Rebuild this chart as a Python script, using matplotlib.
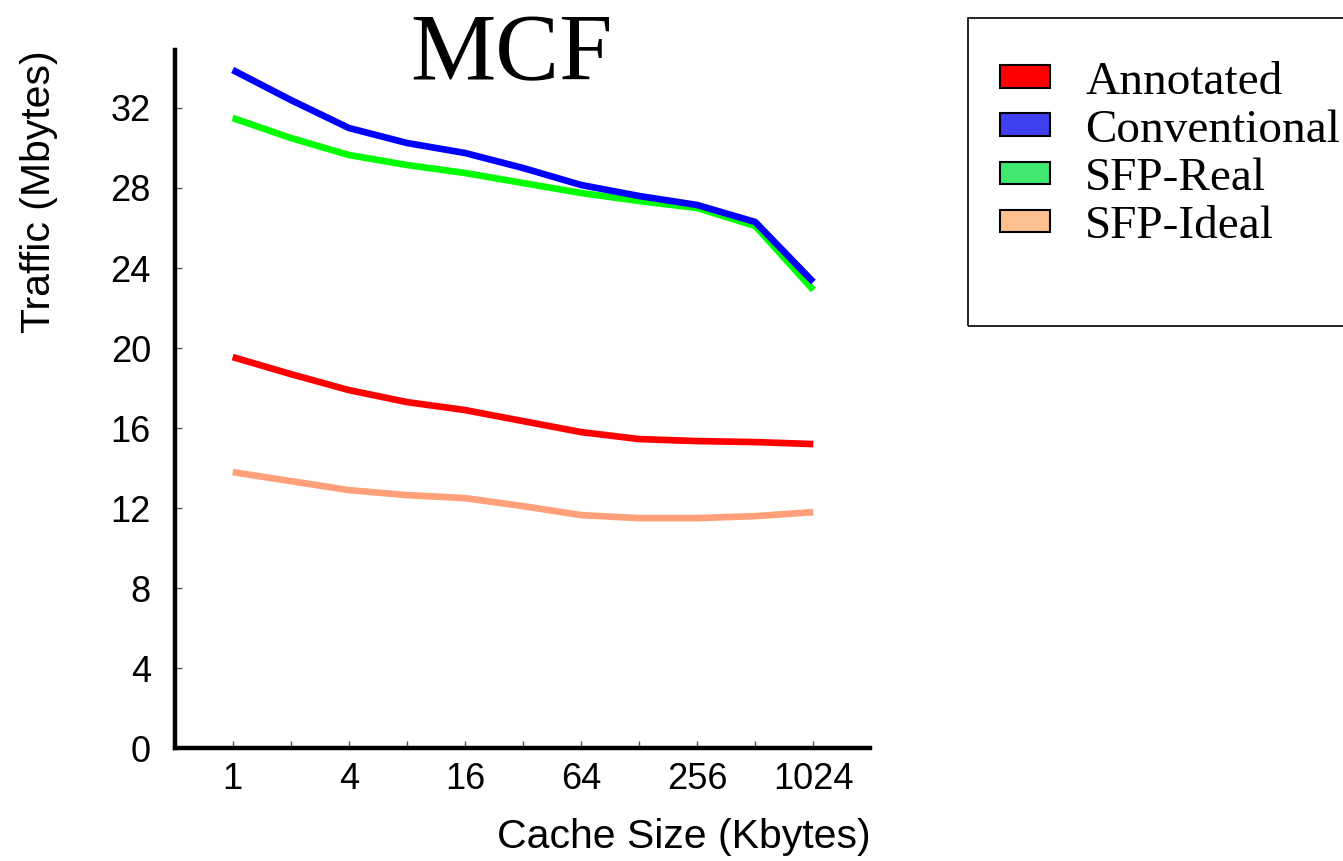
import matplotlib.pyplot as plt
from matplotlib.patches import Patch, Rectangle
import numpy as np

# cache sizes in Kbytes (powers of two)
cache_kb = [1, 2, 4, 8, 16, 32, 64, 128, 256, 512, 1024]
tick_labels = ["1", "4", "16", "64", "256", "1024"]

annotated = [19.55, 18.7, 17.9, 17.3, 16.9, 16.35, 15.8, 15.45, 15.35, 15.3, 15.2]
conventional = [33.9, 32.4, 31.0, 30.25, 29.75, 29.0, 28.15, 27.6, 27.15, 26.3, 23.3]
sfp_real = [31.5, 30.5, 29.65, 29.15, 28.75, 28.25, 27.75, 27.35, 27.0, 26.1, 22.9]
sfp_ideal = [13.8, 13.35, 12.9, 12.65, 12.5, 12.1, 11.65, 11.5, 11.5, 11.6, 11.8]

SERIES = [
    ("Annotated", annotated, "#ff0000", "#ff0000"),
    ("Conventional", conventional, "#0000ff", "#4040f0"),
    ("SFP-Real", sfp_real, "#00ff00", "#40e870"),
    ("SFP-Ideal", sfp_ideal, "#ffa07a", "#ffc090"),
]

SANS = "Liberation Sans"
SERIF = "Liberation Serif"

fig = plt.figure(figsize=(13.43, 8.61), dpi=100)
ax = fig.add_axes([0.130, 0.131, 0.518, 0.811])

x = np.log2(cache_kb)
# draw order: peach and red first, then green, blue on top
for idx in (3, 0, 2, 1):
    label, values, line_color, _ = SERIES[idx]
    ax.plot(x, values, color=line_color, lw=4.8, solid_capstyle="butt")

ax.set_xlim(-1, 10.98)
ax.set_ylim(0, 34.9)

ax.set_xticks(x)
ax.set_xticklabels([str(c) if str(c) in tick_labels else "" for c in cache_kb])
ax.set_yticks(np.arange(0, 33, 4))
ax.tick_params(axis="both", direction="in", length=5, width=1, color="#555555",
               labelsize=26)
ax.tick_params(axis="y", pad=17)
ax.tick_params(axis="x", pad=10)
for lab in ax.get_xticklabels() + ax.get_yticklabels():
    lab.set_family(SANS)

for side in ("top", "right"):
    ax.spines[side].set_visible(False)
for side in ("left", "bottom"):
    ax.spines[side].set_linewidth(3.2)
    ax.spines[side].set_color("black")

ax.set_ylabel("Traffic (Mbytes)", fontsize=29.5, family=SANS, loc="top", labelpad=38)
ax.set_xlabel("Cache Size (Kbytes)", fontsize=29.5, family=SANS, loc="right", labelpad=15)

fig.text(0.381, 1 - 57 / 861, "MCF", fontsize=69, family=SERIF, ha="center", va="center")

# legend box (extends past right edge like the original)
fig.add_artist(Rectangle((968 / 1343, 1 - 326 / 861), 0.4, 308 / 861,
                         transform=fig.transFigure, fill=False,
                         edgecolor="black", lw=1.2))
handles = [Patch(facecolor=s[3], edgecolor="black", lw=1.5) for s in SERIES]
leg = fig.legend(handles, [s[0] for s in SERIES],
                 loc="upper left", bbox_to_anchor=(1000 / 1343, 1 - 61 / 861),
                 frameon=False, prop={"family": SERIF, "size": 34},
                 handlelength=1.06, handleheight=0.36, handletextpad=0.74,
                 labelspacing=0.12, borderpad=0, borderaxespad=0)

fig.savefig("out.png", dpi=100)
